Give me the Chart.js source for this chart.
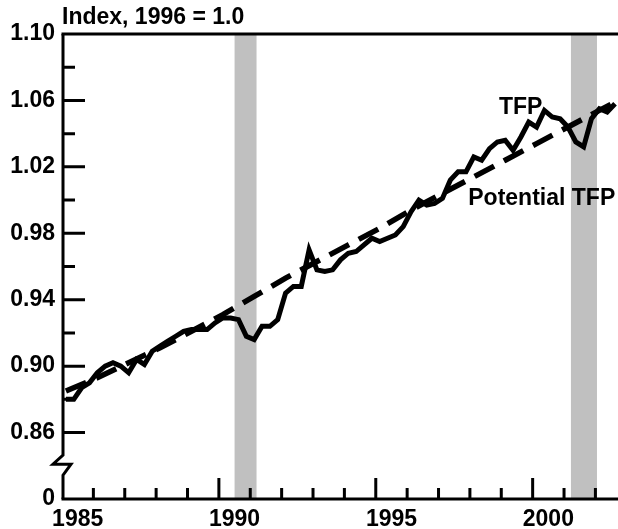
<!DOCTYPE html>
<html>
<head>
<meta charset="utf-8">
<script src="https://cdn.jsdelivr.net/npm/chart.js@4.4.1/dist/chart.umd.min.js"></script>
<style>
  html, body { margin: 0; padding: 0; background: #fff; }
  #wrap { width: 618px; height: 529px; }
</style>
</head>
<body>
<div id="wrap"><canvas id="tfpChart"></canvas></div>
<script>
// quarterly TFP index, 1985:Q1 onwards (plotted at mid-quarter)
const firstYear = 1985;
const tfp = [
  0.880, 0.880, 0.887, 0.890,  // 1985
  0.896, 0.900, 0.902, 0.900,  // 1986
  0.896, 0.904, 0.901, 0.909,  // 1987
  0.912, 0.915, 0.918, 0.921,  // 1988
  0.922, 0.922, 0.922, 0.926,  // 1989
  0.929, 0.929, 0.928, 0.918,  // 1990
  0.916, 0.924, 0.924, 0.928,  // 1991
  0.944, 0.948, 0.948, 0.970,  // 1992
  0.958, 0.957, 0.958, 0.964,  // 1993
  0.968, 0.969, 0.973, 0.977,  // 1994
  0.975, 0.977, 0.979, 0.984,  // 1995
  0.993, 1.000, 0.997, 0.998,  // 1996
  1.001, 1.012, 1.017, 1.017,  // 1997
  1.026, 1.024, 1.031, 1.035,  // 1998
  1.036, 1.030, 1.038, 1.047,  // 1999
  1.044, 1.054, 1.050, 1.049,  // 2000
  1.044, 1.035, 1.032, 1.049,  // 2001
  1.055, 1.053, 1.058          // 2002
];

const potentialDates = [1985.125, 1986.125, 1987.125, 1988.125, 1989.125, 1990.125, 1991.125,
  1992.125, 1993.125, 1994.125, 1995.125, 1996.125, 1997.125, 1998.125, 1999.125, 2000.125,
  2001.125, 2002.125, 2002.625];
const potentialTfp = [0.885, 0.893, 0.902, 0.911, 0.921, 0.931, 0.942,
  0.953, 0.963, 0.973, 0.983, 0.994, 1.004, 1.014, 1.024, 1.034,
  1.044, 1.054, 1.059];

// shaded recessions [start, end]
const recessions = [[1990.5, 1991.2], [2001.22, 2002.05]];

const yTickValues = [0.82, 0.86, 0.90, 0.94, 0.98, 1.02, 1.06, 1.10];
const yTickLabels = ["0", "0.86", "0.90", "0.94", "0.98", "1.02", "1.06", "1.10"];
const yMinorTicks = [0.88, 0.92, 0.96, 1.00, 1.04, 1.08];
const xLabelPos = [1985.5, 1990.5, 1995.5, 2000.5];
const xLabelText = ["1985", "1990", "1995", "2000"];
const xYearTicks = [1986, 1987, 1988, 1989, 1990, 1991, 1992, 1993, 1994, 1995,
  1996, 1997, 1998, 1999, 2000, 2001, 2002];

const FONT = '"Liberation Sans", Arial, sans-serif';

const framePlugin = {
  id: "frame",
  beforeDatasetsDraw(chart) {
    const { ctx, chartArea: a, scales: { x, y } } = chart;
    ctx.save();
    // recession bars
    ctx.fillStyle = "#c0c0c0";
    recessions.forEach(([s, e]) => {
      const x0 = x.getPixelForValue(s), x1 = x.getPixelForValue(e);
      ctx.fillRect(x0, a.top, x1 - x0, a.bottom - a.top);
    });

    ctx.strokeStyle = "#000";
    ctx.lineWidth = 3;
    ctx.lineCap = "butt";
    const ax = a.left + 1;

    // top frame and bottom axis
    ctx.beginPath();
    ctx.moveTo(ax - 1.5, a.top); ctx.lineTo(a.right, a.top);
    ctx.moveTo(ax - 1.5, a.bottom); ctx.lineTo(a.right, a.bottom);
    ctx.stroke();

    // y axis with break
    const yb = y.getPixelForValue(0.841);
    ctx.beginPath();
    ctx.moveTo(ax, a.top);
    ctx.lineTo(ax, yb - 9);
    ctx.lineTo(ax - 10, yb);
    ctx.lineTo(ax + 8, yb);
    ctx.lineTo(ax, yb + 11);
    ctx.lineTo(ax, a.bottom);
    ctx.lineJoin = "miter";
    ctx.stroke();

    // y ticks
    ctx.beginPath();
    yTickValues.forEach(v => {
      if (v === y.min || v === y.max) return;
      const py = y.getPixelForValue(v);
      ctx.moveTo(ax, py); ctx.lineTo(ax + 22, py);
    });
    yMinorTicks.forEach(v => {
      const py = y.getPixelForValue(v);
      ctx.moveTo(ax, py); ctx.lineTo(ax + 12, py);
    });
    // x ticks
    xYearTicks.forEach(yr => {
      const px = x.getPixelForValue(yr);
      const len = yr % 5 === 0 ? 21 : 11;
      ctx.moveTo(px, a.bottom); ctx.lineTo(px, a.bottom - len);
    });
    ctx.stroke();
    ctx.restore();
  },
  afterDatasetsDraw(chart) {
    const { ctx, chartArea: a, scales: { x, y } } = chart;
    ctx.save();
    ctx.fillStyle = "#000";
    ctx.font = "bold 23px " + FONT;
    ctx.textBaseline = "middle";
    ctx.textAlign = "left";
    ctx.fillText("Index, 1996 = 1.0", a.left, 18);
    ctx.textAlign = "center";
    ctx.fillText("TFP", x.getPixelForValue(1999.62), y.getPixelForValue(1.0554));
    ctx.fillText("Potential TFP", x.getPixelForValue(2000.29), y.getPixelForValue(1.0006));
    ctx.restore();
  }
};

new Chart(document.getElementById("tfpChart"), {
  type: "line",
  data: {
    datasets: [
      {
        label: "TFP",
        data: tfp.map((v, i) => ({ x: firstYear + 0.125 + 0.25 * i, y: v })),
        borderColor: "#000",
        borderWidth: 5,
        pointRadius: 0,
        tension: 0,
        order: 0
      },
      {
        label: "Potential TFP",
        data: potentialDates.map((d, i) => ({ x: d, y: potentialTfp[i] })),
        borderColor: "#000",
        borderWidth: 5.5,
        borderDash: [22, 11],
        pointRadius: 0,
        tension: 0,
        order: 1
      }
    ]
  },
  options: {
    responsive: true,
    maintainAspectRatio: false,
    animation: false,
    layout: { padding: { top: 34, right: 0, left: 0, bottom: 0 } },
    plugins: {
      legend: { display: false },
      tooltip: { enabled: false }
    },
    scales: {
      x: {
        type: "linear",
        min: 1985,
        max: 2002.72,
        border: { display: false },
        grid: { display: false, drawTicks: false },
        afterBuildTicks: s => { s.ticks = xLabelPos.map(v => ({ value: v })); },
        afterFit: s => { s.height = 30; },
        ticks: {
          autoSkip: false,
          maxRotation: 0,
          padding: 7,
          color: "#000",
          font: { family: FONT, size: 23, weight: "bold" },
          callback: v => xLabelText[xLabelPos.indexOf(v)]
        }
      },
      y: {
        type: "linear",
        min: 0.82,
        max: 1.10,
        border: { display: false },
        grid: { display: false, drawTicks: false },
        afterBuildTicks: s => { s.ticks = yTickValues.map(v => ({ value: v })); },
        afterFit: s => { s.width = 62; },
        ticks: {
          autoSkip: false,
          padding: 7,
          color: "#000",
          font: { family: FONT, size: 23, weight: "bold" },
          callback: v => yTickLabels[yTickValues.indexOf(v)]
        }
      }
    }
  },
  plugins: [framePlugin]
});
</script>
</body>
</html>
